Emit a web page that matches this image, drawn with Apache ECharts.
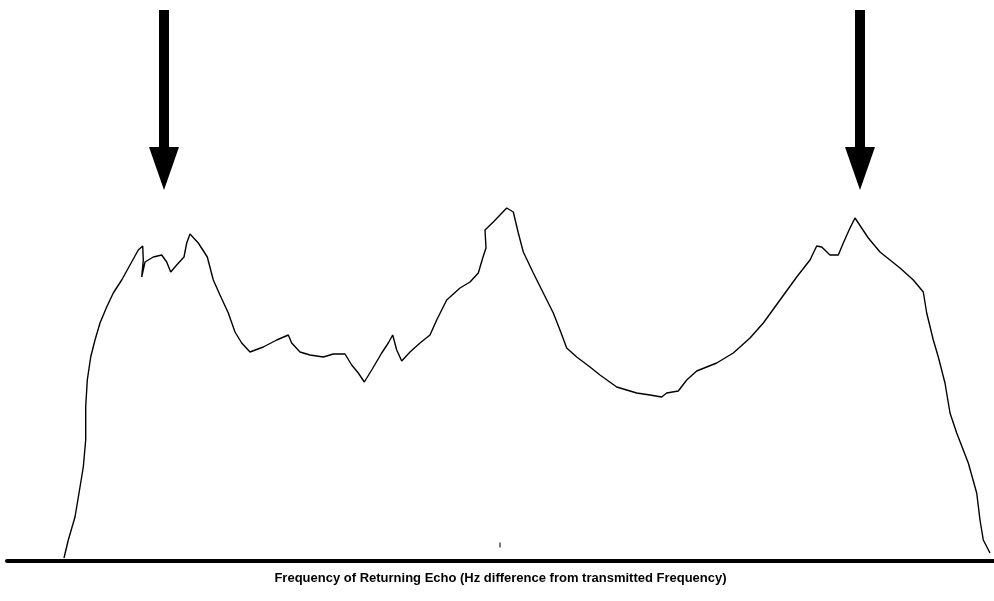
<!DOCTYPE html>
<html>
<head>
<meta charset="utf-8">
<style>
  html, body { margin: 0; padding: 0; background: #fff; }
  #chart { width: 994px; height: 601px; }
</style>
<script src="https://cdn.jsdelivr.net/npm/echarts@6/dist/echarts.min.js"></script>
</head>
<body>
<div id="chart"></div>
<script>
// Frequency offset (Hz difference, arbitrary units) and echo level (arbitrary units)
const freqHz = [
  -436, -431.7, -425, -420, -416.7, -414.3, -414.3, -412.7, -409.3, -405, -400, -393.3, -386.7, -378.3, -370, -361.7,
  -357.3, -356.7, -358.3, -355, -346.7, -338.3, -333.3, -329.3, -323.3, -316, -313.3, -310, -301.7, -292.7, -286.7,
  -280, -271.7, -265, -258.3, -250, -236.7, -223.3, -211.7, -208.3, -200, -190, -176.7, -166.7, -155, -148.3, -141.7,
  -135.7, -128.3, -118.3, -111.7, -107.3, -103.3, -98.3, -90, -80, -70, -63.3, -53.3, -40, -30, -21.7, -17.3, -14,
  -15, -6.7, 6.7, 13.3, 18.3, 23.3, 33.3, 43.3, 53.3, 60, 66.7, 76.7, 90, 100, 116.7, 136.7, 150, 161.7, 166.7,
  178.3, 186.7, 196.7, 216.7, 233.3, 250, 263.3, 280, 296.7, 310, 316.7, 321.7, 330, 338.3, 343.3, 350, 355,
  368.3, 380, 400, 413.3, 423.3, 426.7, 433.3, 438.3, 445, 450, 456.7, 468.3, 476.7, 480, 483.3, 490
];
const echoLevel = [
  3, 21, 44, 74, 94, 121, 154, 181, 204, 221, 238, 254, 268, 281, 296, 311,
  315, 301, 284, 299, 304, 306, 299, 289, 296, 304, 318, 327, 318, 304, 281,
  266, 248, 229, 218, 209, 214, 221, 226, 218, 209, 206, 204, 207, 207, 196, 188,
  179, 191, 208, 218, 226, 211, 200, 209, 218, 226, 241, 261, 273, 279, 288, 303, 313,
  331, 339, 353, 349, 328, 309, 288, 268, 248, 231, 213, 204, 194, 186, 174, 168, 166, 164, 168,
  170, 181, 190, 198, 208, 223, 238, 261, 284, 301, 315, 314, 306, 306, 318, 333, 343,
  323, 309, 293, 281, 269, 248, 221, 204, 178, 148, 128, 98, 68, 41, 21, 8
];
// Frequencies marked by the two arrows
const arrowFreq = [-336, 360];
const centreFreq = [0];
const axisTitle = 'Frequency of Returning Echo (Hz difference from transmitted Frequency)';

const chart = echarts.init(document.getElementById('chart'), null, { renderer: 'canvas' });

const option = {
  animation: false,
  backgroundColor: '#ffffff',
  grid: { left: 7, right: 0, top: 0, bottom: 40, containLabel: false },
  xAxis: {
    type: 'value',
    min: -493,
    max: 494,
    axisLine: { show: true, onZero: false, lineStyle: { color: '#000', width: 4 } },
    axisTick: { show: false },
    axisLabel: { show: false },
    splitLine: { show: false },
    name: axisTitle,
    nameLocation: 'middle',
    nameGap: 11,
    nameTextStyle: {
      color: '#000',
      fontFamily: 'Liberation Sans, Arial, sans-serif',
      fontWeight: 'bold',
      fontSize: 13
    }
  },
  yAxis: {
    type: 'value',
    min: 0,
    max: 561,
    show: false,
    splitLine: { show: false }
  },
  series: [
    {
      type: 'line',
      data: freqHz.map((f, i) => [f, echoLevel[i]]),
      showSymbol: false,
      symbol: 'none',
      smooth: false,
      lineStyle: { color: '#000', width: 1.4 },
      z: 3
    },
    {
      type: 'scatter',
      data: centreFreq.map(f => [f, 16]),
      symbol: 'rect',
      symbolSize: [1.5, 5],
      itemStyle: { color: '#222' },
      silent: true
    }
  ]
};
chart.setOption(option);

// Arrow annotations placed through the axis scales
const graphics = [];
arrowFreq.forEach((f) => {
  const top = chart.convertToPixel({ gridIndex: 0 }, [f, 551]);
  const tip = chart.convertToPixel({ gridIndex: 0 }, [f, 371]);
  const x = top[0];
  const headH = 43;
  const headHalf = 15;
  const shaftHalf = 5;
  graphics.push({
    type: 'rect',
    shape: { x: x - shaftHalf, y: top[1], width: shaftHalf * 2, height: tip[1] - headH - top[1] + 1 },
    style: { fill: '#000' }
  });
  graphics.push({
    type: 'polygon',
    shape: { points: [[x - headHalf, tip[1] - headH], [x + headHalf, tip[1] - headH], [x, tip[1]]] },
    style: { fill: '#000' }
  });
});
chart.setOption({ graphic: graphics });
</script>
</body>
</html>
